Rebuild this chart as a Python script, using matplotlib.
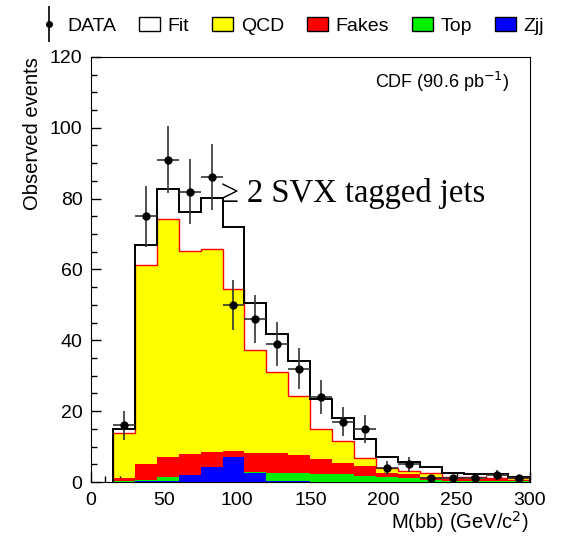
import matplotlib
matplotlib.use("Agg")
import matplotlib.pyplot as plt
from matplotlib.patches import Patch
from matplotlib.lines import Line2D
from matplotlib.legend_handler import HandlerTuple
import numpy as np

plt.rcParams['font.family'] = ['Liberation Sans', 'DejaVu Sans']

# bins of M(bb), 15 GeV wide
edges = np.arange(15, 301, 15)
centers = edges[:-1] + 7.5

# observed events and their errors
data = [16, 75, 91, 82, 86, 50, 46, 39, 32, 24, 17, 15, 4, 5, 1, 1, 1, 2, 1]
data_err = [4.0, 8.7, 9.5, 9.1, 9.3, 7.1, 6.8, 6.2, 5.7, 4.9, 4.1, 3.9, 2.0, 2.2, 1.0, 1.0, 1.0, 1.4, 1.0]

# fit result
fit = [15.0, 66.9, 82.6, 76.2, 80.3, 72.0, 50.4, 41.9, 34.3, 23.5, 18.2, 12.1, 7.2, 5.7, 4.3, 2.5, 2.3, 2.2, 1.4]

# background components (stacked: Zjj, Top, Fakes, QCD)
zjj = [0.1, 0.2, 0.4, 2.0, 4.2, 7.0, 2.6, 0.3, 0.2, 0.1, 0.1, 0.1, 0.1, 0.1, 0.1, 0.1, 0.1, 0.1, 0.1]
top = [0.1, 0.5, 0.9, 0.1, 0.1, 0.1, 0.1, 2.3, 2.4, 2.3, 2.1, 1.7, 1.2, 0.9, 0.6, 0.3, 0.3, 0.3, 0.2]
fakes = [0.8, 4.4, 5.9, 5.8, 4.2, 1.7, 5.6, 5.5, 5.0, 4.1, 3.1, 2.7, 1.2, 1.2, 0.8, 0.6, 0.5, 0.4, 0.4]
qcd = [12.8, 56.3, 67.0, 57.3, 57.4, 45.8, 29.0, 22.9, 16.6, 8.4, 6.3, 2.4, 1.5, 1.0, 1.0, 0.5, 0.4, 0.4, 0.3]

c_zjj = np.array(zjj)
c_top = c_zjj + np.array(top)
c_fakes = c_top + np.array(fakes)
c_qcd = c_fakes + np.array(qcd)

fig = plt.figure(figsize=(5.71, 5.37), dpi=100)
ax = fig.add_axes([0.159, 0.1024, 0.769, 0.7916])

ax.stairs(c_qcd, edges, fill=True, color='#ffff00', zorder=1)
ax.stairs(c_qcd, edges, color='red', lw=1.0, zorder=2)
ax.stairs(c_fakes, edges, fill=True, color='#ff0000', zorder=3)
ax.stairs(c_top, edges, fill=True, color='#00ee00', zorder=4)
ax.stairs(c_zjj, edges, fill=True, color='#0000ff', zorder=5)

ax.stairs(fit, edges, color='black', lw=1.4, zorder=6)

ax.errorbar(centers, data, yerr=data_err, xerr=7.5, fmt='o', color='black',
            ecolor='#333333', elinewidth=1.2, markersize=5, zorder=7)

ax.set_xlim(0, 300)
ax.set_ylim(0, 120)
ax.set_xticks(np.arange(0, 301, 50))
ax.set_xticks(np.arange(0, 301, 10), minor=True)
ax.set_yticks(np.arange(0, 121, 20))
ax.set_yticks(np.arange(0, 121, 5), minor=True)
ax.tick_params(which='both', direction='in', top=False, right=False, labelsize=14)
ax.tick_params(which='major', length=7, width=1)
ax.tick_params(which='minor', length=4, width=1)
ax.tick_params(axis='x', pad=7)
ax.tick_params(axis='y', pad=6)

ax.text(286, 113, 'CDF (90.6 pb$^{-1}$)', ha='right', va='center', fontsize=13)
ax.text(89, 79, '\u2265 2 SVX tagged jets', ha='left', va='baseline', fontsize=23.5,
        family=['Liberation Serif', 'DejaVu Serif'])

fig.text(33 / 571, 1 - 57 / 537, 'Observed events', rotation=90, ha='center', va='top', fontsize=14.5)
fig.text(529 / 571, 1 - 522 / 537, 'M(bb) (GeV/c$^2$)', ha='right', va='center', fontsize=14.5)

data_handle = (Line2D([], [], color='black', marker='|', markersize=26, markeredgewidth=1.2, linestyle='None'),
               Line2D([], [], color='black', marker='o', markersize=4, linestyle='None'))
handles = [
    data_handle,
    Patch(facecolor='white', edgecolor='black'),
    Patch(facecolor='#ffff00', edgecolor='black'),
    Patch(facecolor='#ff0000', edgecolor='black'),
    Patch(facecolor='#00ee00', edgecolor='black'),
    Patch(facecolor='#0000ff', edgecolor='black'),
]
labels = ['DATA', 'Fit', 'QCD', 'Fakes', 'Top', 'Zjj']
fig.legend(handles, labels, loc='upper center', bbox_to_anchor=(0.51, 1.0), ncol=6,
           frameon=False, fontsize=14, handlelength=1.1, handletextpad=0.4, columnspacing=1.15,
           handler_map={tuple: HandlerTuple(ndivide=1)})

fig.savefig('out.png', dpi=100)
